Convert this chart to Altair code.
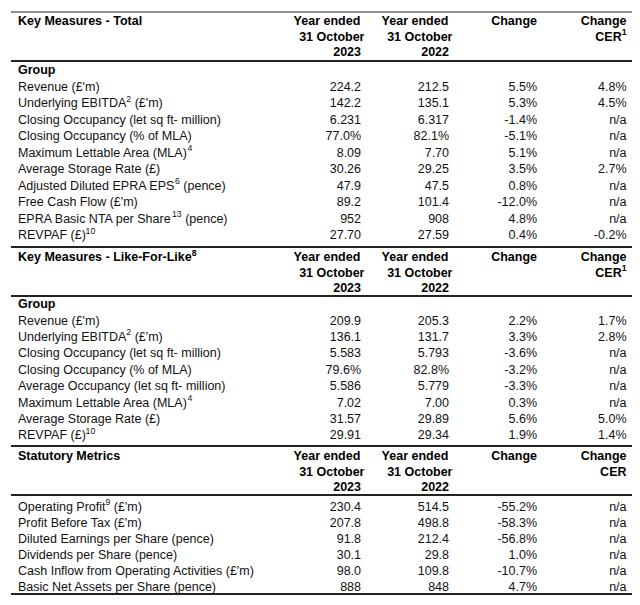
import re
import altair as alt
import pandas as pd

# ---------------- data ----------------
# {..} marks superscript footnote references
titles = ["Key Measures - Total", "Key Measures - Like-For-Like{8}", "Statutory Metrics"]
hdr_2023 = ["Year ended", "31 October", "2023"]
hdr_2022 = ["Year ended", "31 October", "2022"]
hdr_chg = ["Change"]
hdr_cer = [["Change", "CER{1}"], ["Change", "CER{1}"], ["Change", "CER"]]
group_label = "Group"

labels1 = ["Revenue (£'m)", "Underlying EBITDA{2} (£'m)", "Closing Occupancy (let sq ft- million)",
           "Closing Occupancy (% of MLA)", "Maximum Lettable Area (MLA){4}", "Average Storage Rate (£)",
           "Adjusted Diluted EPRA EPS{6} (pence)", "Free Cash Flow (£'m)",
           "EPRA Basic NTA per Share{13} (pence)", "REVPAF (£){10}"]
y2023_1 = ["224.2", "142.2", "6.231", "77.0%", "8.09", "30.26", "47.9", "89.2", "952", "27.70"]
y2022_1 = ["212.5", "135.1", "6.317", "82.1%", "7.70", "29.25", "47.5", "101.4", "908", "27.59"]
chg1 = ["5.5%", "5.3%", "-1.4%", "-5.1%", "5.1%", "3.5%", "0.8%", "-12.0%", "4.8%", "0.4%"]
cer1 = ["4.8%", "4.5%", "n/a", "n/a", "n/a", "2.7%", "n/a", "n/a", "n/a", "-0.2%"]

labels2 = ["Revenue (£'m)", "Underlying EBITDA{2} (£'m)", "Closing Occupancy (let sq ft- million)",
           "Closing Occupancy (% of MLA)", "Average Occupancy (let sq ft- million)",
           "Maximum Lettable Area (MLA){4}", "Average Storage Rate (£)", "REVPAF (£){10}"]
y2023_2 = ["209.9", "136.1", "5.583", "79.6%", "5.586", "7.02", "31.57", "29.91"]
y2022_2 = ["205.3", "131.7", "5.793", "82.8%", "5.779", "7.00", "29.89", "29.34"]
chg2 = ["2.2%", "3.3%", "-3.6%", "-3.2%", "-3.3%", "0.3%", "5.6%", "1.9%"]
cer2 = ["1.7%", "2.8%", "n/a", "n/a", "n/a", "n/a", "5.0%", "1.4%"]

labels3 = ["Operating Profit{9} (£'m)", "Profit Before Tax (£'m)", "Diluted Earnings per Share (pence)",
           "Dividends per Share (pence)", "Cash Inflow from Operating Activities (£'m)",
           "Basic Net Assets per Share (pence)"]
y2023_3 = ["230.4", "207.8", "91.8", "30.1", "98.0", "888"]
y2022_3 = ["514.5", "498.8", "212.4", "29.8", "109.8", "848"]
chg3 = ["-55.2%", "-58.3%", "-56.8%", "1.0%", "-10.7%", "4.7%"]
cer3 = ["n/a", "n/a", "n/a", "n/a", "n/a", "n/a"]

sections = [
    dict(labels=labels1, c1=y2023_1, c2=y2022_1, c3=chg1, c4=cer1, group=True),
    dict(labels=labels2, c1=y2023_2, c2=y2022_2, c3=chg2, c4=cer2, group=True),
    dict(labels=labels3, c1=y2023_3, c2=y2022_3, c3=chg3, c4=cer3, group=False),
]

# ---------------- text metrics (Arial / Liberation Sans advance widths, 1/1000 em) ----------------
REG = {' ': 278, '(': 333, ')': 333, '-': 333, '%': 889, "'": 191, '£': 556, '/': 278, '.': 278,
       'A': 667, 'B': 667, 'C': 722, 'D': 722, 'E': 667, 'F': 611, 'G': 778, 'H': 722, 'I': 278,
       'L': 556, 'M': 833, 'N': 722, 'O': 778, 'P': 667, 'R': 722, 'S': 667, 'T': 611, 'U': 722,
       'V': 667, 'a': 556, 'b': 556, 'c': 500, 'd': 556, 'e': 556, 'f': 278, 'g': 556, 'h': 556,
       'i': 222, 'j': 222, 'k': 500, 'l': 222, 'm': 833, 'n': 556, 'o': 556, 'p': 556, 'q': 556,
       'r': 333, 's': 500, 't': 278, 'u': 556, 'v': 500, 'w': 722, 'x': 500, 'y': 500}
BOLD = {' ': 278, '-': 333, 'A': 722, 'B': 722, 'C': 722, 'E': 667, 'F': 611, 'G': 778, 'K': 722,
        'L': 611, 'M': 833, 'R': 722, 'S': 667, 'T': 611, 'Y': 667, 'a': 556, 'c': 556, 'd': 611,
        'e': 556, 'g': 611, 'h': 611, 'i': 278, 'k': 556, 'l': 278, 'n': 611, 'o': 611, 'r': 389,
        's': 556, 't': 333, 'u': 611, 'y': 556}
KERN = {"TA": -74, "AT": -74, "PA": -92}

FS = 12.5
FS_SUP = 8.7


def text_width(s, bold, fs):
    table = BOLD if bold else REG
    w = sum(table.get(ch, 556) for ch in s)
    w += sum(KERN.get(s[i:i + 2], 0) for i in range(len(s) - 1))
    return w * fs / 1000.0


def segments(s):
    out = []
    for part in re.split(r"(\{[^}]*\})", s):
        if not part:
            continue
        if part.startswith("{"):
            out.append((part[1:-1], True))
        else:
            out.append((part, False))
    return out


# ---------------- layout ----------------
LABEL_X = 18
COL_X = [361, 449, 537, 626.5]
LINE_X0, LINE_X1 = 11, 633
HDR_STEP = 15.5
layout = [
    dict(top=21, line=61, group=70, row0=86.5, step=16.5, end=247),
    dict(top=257, line=296, group=304, row0=320.5, step=16.4, end=446),
    dict(top=456, line=495, group=None, row0=506.5, step=16.0, end=594),
]

text_rows = []


def put(s, x, y, bold, align):
    segs = segments(s)
    total = sum(text_width(t, bold, FS_SUP if sup else FS) for t, sup in segs)
    cx = x if align == "left" else x - total
    for t, sup in segs:
        fs = FS_SUP if sup else FS
        lead = len(t) - len(t.lstrip(" "))
        cx += text_width(" " * lead, bold, fs)
        body = t.lstrip(" ")
        kind = ("b" if bold else "n") + ("s" if sup else "")
        text_rows.append(dict(t=body, x=cx, y=y, kind=kind))
        cx += text_width(body, bold, fs)


rule_rows = [dict(x=LINE_X0, x2=LINE_X1, y=12, w=1.2)]
for si, (sec, lay) in enumerate(zip(sections, layout)):
    put(titles[si], LABEL_X, lay["top"], True, "left")
    for ci, hdr in enumerate([hdr_2023, hdr_2022, hdr_chg, hdr_cer[si]]):
        for li, t in enumerate(hdr):
            put(t, COL_X[ci], lay["top"] + li * HDR_STEP, True, "right")
    rule_rows.append(dict(x=LINE_X0, x2=LINE_X1, y=lay["line"], w=2.2))
    if sec["group"]:
        put(group_label, LABEL_X, lay["group"], True, "left")
    for ri, lab in enumerate(sec["labels"]):
        yy = lay["row0"] + ri * lay["step"]
        put(lab, LABEL_X, yy, False, "left")
        for ci, col in enumerate([sec["c1"], sec["c2"], sec["c3"], sec["c4"]]):
            put(col[ri], COL_X[ci], yy, False, "right")
    rule_rows.append(dict(x=LINE_X0, x2=LINE_X1, y=lay["end"], w=2.2))

tdf = pd.DataFrame(text_rows)
rdf = pd.DataFrame(rule_rows)

W, H = 624, 589
xs = alt.Scale(domain=[8, 8 + W], nice=False, zero=False)
ys = alt.Scale(domain=[8, 8 + H], nice=False, zero=False, reverse=True)
FONT = "Liberation Sans"


def text_layer(kind, weight, color, fs, dy=0):
    return alt.Chart(tdf).transform_filter(alt.datum.kind == kind).mark_text(
        align="left", baseline="middle", font=FONT, fontSize=fs, fontWeight=weight,
        color=color, dy=dy
    ).encode(
        x=alt.X("x:Q", scale=xs, axis=None),
        y=alt.Y("y:Q", scale=ys, axis=None),
        text="t:N",
    )


rules = alt.Chart(rdf).mark_rule(color="#222222").encode(
    x=alt.X("x:Q", scale=xs, axis=None),
    x2="x2:Q",
    y=alt.Y("y:Q", scale=ys, axis=None),
    strokeWidth=alt.StrokeWidth("w:Q", scale=None, legend=None),
)

chart = alt.layer(
    rules,
    text_layer("b", "bold", "#000000", FS),
    text_layer("n", "normal", "#111111", FS),
    text_layer("bs", "bold", "#000000", FS_SUP, -4.5),
    text_layer("ns", "normal", "#111111", FS_SUP, -4.5),
).properties(
    width=W, height=H, padding=0, autosize=alt.AutoSizeParams(type="none"),
    background="white",
).configure_view(stroke=None)

chart.save("out.html", embed_options={"renderer": "svg", "actions": False})
